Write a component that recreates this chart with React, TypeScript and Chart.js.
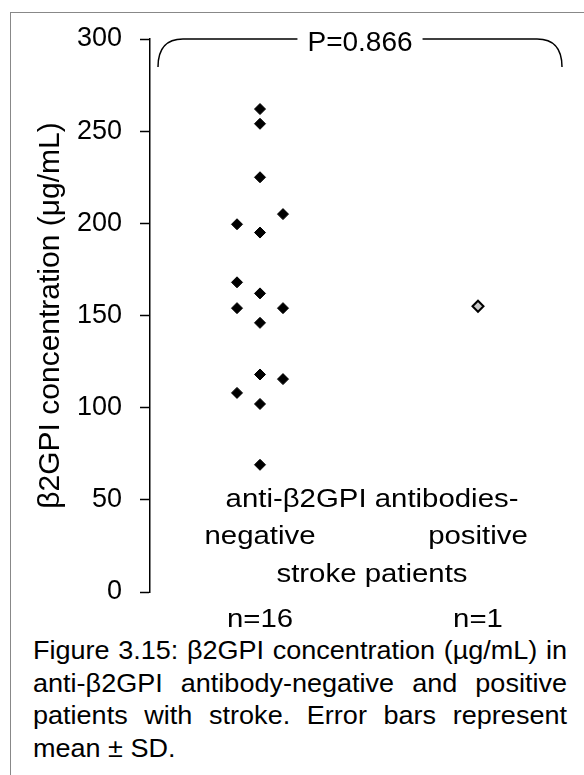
import React, { useEffect, useRef } from "react";
import { Chart, registerables } from "chart.js";

Chart.register(...registerables);

// ---- data ----
const yTickMin = 0;
const yTickMax = 300;
const yTickStep = 50;
const categories = ["negative", "positive"];
const categoryCounts = ["n=16", "n=1"];
const groupTitleTop = "anti-β2GPI antibodies-";
const groupTitleBottom = "stroke patients";
const yAxisTitle = "β2GPI concentration (μg/mL)";
const pValueLabel = "P=0.866";
// anti-β2GPI antibody-negative group (n=16)
const negativeValues = [262, 254, 225, 205, 199.5, 195, 168, 162, 154, 154, 146, 118, 115.5, 108, 102, 69];
// column of each dot within the scatter column (-1 left, 0 centre, 1 right)
const negativeColumns = [0, 0, 0, 1, -1, 0, -1, 0, -1, 1, 0, 0, 1, -1, 0, 0];
// anti-β2GPI antibody-positive group (n=1)
const positiveValues = [155];
const positiveColumns = [0];
const captionLines = [
  "Figure 3.15: β2GPI concentration (µg/mL) in",
  "anti-β2GPI antibody-negative and positive",
  "patients with stroke. Error bars represent",
  "mean ± SD.",
];

const FONT = '"Liberation Sans", Arial, Helvetica, sans-serif';
const JITTER = 0.1055;
const LABEL_STRETCH = 1.13;
const CAPTION_STRETCH = 1.06;

const annotationPlugin = {
  id: "annotations",
  afterDraw(chart: any) {
    const { ctx, chartArea, scales } = chart;
    const xs = scales.x;
    const ys = scales.y;
    ctx.save();
    // significance bracket
    const top = ys.getPixelForValue(yTickMax);
    const x0 = chartArea.left + 8;
    const x1 = chartArea.right - 8;
    const drop = 28;
    const curve = 25;
    ctx.font = `28px ${FONT}`;
    const mid = (x0 + x1) / 2;
    const tw = ctx.measureText(pValueLabel).width;
    const gap = 10;
    ctx.strokeStyle = "#000";
    ctx.lineWidth = 1.5;
    ctx.beginPath();
    ctx.moveTo(x0, top + drop);
    ctx.bezierCurveTo(x0, top + 10, x0 + 8, top, x0 + curve, top);
    ctx.lineTo(mid - tw / 2 - gap, top);
    ctx.moveTo(mid + tw / 2 + gap, top);
    ctx.lineTo(x1 - curve, top);
    ctx.bezierCurveTo(x1 - 8, top, x1, top + 10, x1, top + drop);
    ctx.stroke();
    ctx.fillStyle = "#000";
    ctx.textAlign = "center";
    ctx.textBaseline = "alphabetic";
    ctx.fillText(pValueLabel, mid, top + 12);

    // category labels (text box)
    ctx.font = `26px ${FONT}`;
    const drawStretched = (text: string, cx: number, by: number) => {
      ctx.save();
      ctx.translate(cx, by);
      ctx.scale(LABEL_STRETCH, 1);
      ctx.fillText(text, 0, 0);
      ctx.restore();
    };
    const c1 = xs.getPixelForValue(1);
    const c2 = xs.getPixelForValue(2);
    const bottom = ys.getPixelForValue(yTickMin);
    const cm = (c1 + c2) / 2 + 3;
    drawStretched(groupTitleTop, cm, bottom - 85);
    drawStretched(categories[0], c1, bottom - 48);
    drawStretched(categories[1], c2, bottom - 48);
    drawStretched(groupTitleBottom, cm, bottom - 10);
    drawStretched(categoryCounts[0], c1, bottom + 35);
    drawStretched(categoryCounts[1], c2, bottom + 35);
    ctx.restore();
  },
};

function ChartView() {
  const ref = useRef<HTMLCanvasElement | null>(null);
  useEffect(() => {
    if (!ref.current) return;
    const negData = negativeValues.map((v, i) => ({ x: 1 + negativeColumns[i] * JITTER, y: v }));
    const posData = positiveValues.map((v, i) => ({ x: 2 + positiveColumns[i] * JITTER, y: v }));
    const chart = new Chart(ref.current, {
      type: "scatter",
      data: {
        datasets: [
          {
            label: categories[0],
            data: negData,
            pointStyle: "rectRot",
            pointRadius: 5.5,
            backgroundColor: "#000",
            borderColor: "#000",
            borderWidth: 1,
          },
          {
            label: categories[1],
            data: posData,
            pointStyle: "rectRot",
            pointRadius: 5.5,
            backgroundColor: "#c8c8c8",
            borderColor: "#000",
            borderWidth: 2,
          },
        ],
      },
      options: {
        animation: false,
        responsive: false,
        maintainAspectRatio: false,
        layout: { padding: { top: 39, bottom: 42, left: 0, right: 14 } },
        plugins: { legend: { display: false }, tooltip: { enabled: false }, title: { display: false } },
        scales: {
          x: {
            type: "linear",
            display: false,
            min: 1 - 110 / 218,
            max: 1 - 110 / 218 + 420 / 218,
          },
          y: {
            type: "linear",
            min: yTickMin,
            max: yTickMax,
            afterFit: (s: any) => {
              s.width = 150;
            },
            ticks: {
              stepSize: yTickStep,
              color: "#000",
              padding: 18,
              font: { family: FONT, size: 27 },
            },
            grid: {
              drawOnChartArea: false,
              drawTicks: true,
              tickLength: 10,
              tickWidth: 1.5,
              tickColor: "#000",
            },
            border: { display: true, color: "#000", width: 1.5 },
            title: {
              display: true,
              text: yAxisTitle,
              color: "#000",
              font: { family: FONT, size: 30 },
              padding: { top: 33, bottom: 0 },
            },
          },
        },
      },
      plugins: [annotationPlugin],
    });
    return () => chart.destroy();
  }, []);
  return <canvas ref={ref} width={584} height={634} style={{ position: "absolute", left: 0, top: 0 }} />;
}

export default function App() {
  return (
    <div
      style={{
        position: "absolute",
        left: 0,
        top: 0,
        width: 584,
        height: 775,
        overflow: "hidden",
        background: "#fff",
        fontFamily: FONT,
      }}
    >
      <div
        style={{
          position: "absolute",
          left: 10,
          top: 12,
          width: 700,
          height: 900,
          borderTop: "1px solid #888",
          borderLeft: "1px solid #888",
        }}
      />
      <ChartView />
      <div
        style={{
          position: "absolute",
          left: 33,
          top: 634,
          width: 534 / CAPTION_STRETCH,
          fontSize: 25.5,
          lineHeight: "32.5px",
          color: "#000",
          transform: `scaleX(${CAPTION_STRETCH})`,
          transformOrigin: "0 0",
        }}
      >
        {captionLines.map((line, i) => (
          <div
            key={i}
            style={{
              textAlign: "justify",
              textAlignLast: i < captionLines.length - 1 ? "justify" : "left",
            }}
          >
            {line}
          </div>
        ))}
      </div>
    </div>
  );
}
